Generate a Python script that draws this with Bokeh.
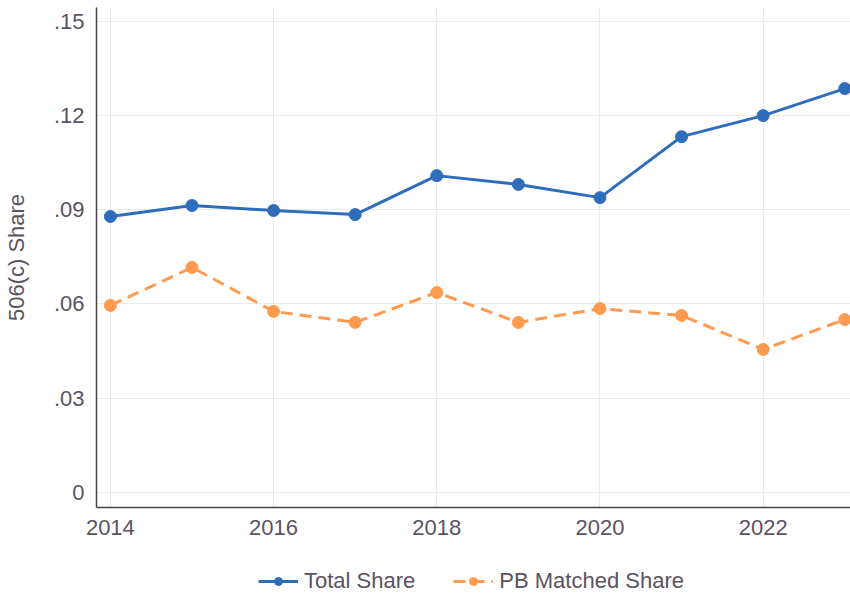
from bokeh.plotting import figure
from bokeh.layouts import column
from bokeh.models import FixedTicker, Legend, LegendItem, Range1d
from bokeh.embed import file_html
from bokeh.resources import INLINE

years = [2014, 2015, 2016, 2017, 2018, 2019, 2020, 2021, 2022, 2023]
total_share = [0.0878, 0.0913, 0.0897, 0.0884, 0.1008, 0.0980, 0.0938, 0.1132, 0.1199, 0.1285]
pb_matched_share = [0.0595, 0.0716, 0.0576, 0.0541, 0.0636, 0.0541, 0.0585, 0.0563, 0.0455, 0.0550]
y_ticks = [0, 0.03, 0.06, 0.09, 0.12, 0.15]
y_tick_labels = ["0", ".03", ".06", ".09", ".12", ".15"]
x_ticks = [2014, 2016, 2018, 2020, 2022]
series_names = ["Total Share", "PB Matched Share"]

BLUE = "#2e6dbc"
ORANGE = "#ff9a4f"
TEXT = "#5a5361"
FONT = "Liberation Sans"
FS = "22px"


def draw_series(fig):
    r1 = fig.line(years, total_share, line_color=BLUE, line_width=3)
    c1 = fig.scatter(years, total_share, size=12, fill_color=BLUE, line_color=BLUE)
    r2 = fig.line(years, pb_matched_share, line_color=ORANGE, line_width=3, line_dash="12 7")
    c2 = fig.scatter(years, pb_matched_share, size=12, fill_color=ORANGE, line_color=ORANGE)
    return [r1, c1], [r2, c2]


p = figure(frame_width=754, frame_height=500, output_backend="svg", toolbar_location=None,
           x_range=Range1d(2013.83, 2023.07), y_range=Range1d(-0.0048, 0.1543),
           min_border_left=0, min_border_right=0, min_border_top=7, min_border_bottom=40)
p.outline_line_color = None
draw_series(p)

p.yaxis.ticker = FixedTicker(ticks=y_ticks)
p.yaxis.major_label_overrides = {t: l for t, l in zip(y_ticks, y_tick_labels)}
p.xaxis.ticker = FixedTicker(ticks=x_ticks)

for ax in (p.xaxis, p.yaxis):
    ax.major_tick_line_color = None
    ax.minor_tick_line_color = None
    ax.axis_line_color = "#444444"
    ax.axis_line_width = 1.5
    ax.major_label_text_font = FONT
    ax.major_label_text_font_size = FS
    ax.major_label_text_color = TEXT

p.yaxis.axis_label = "506(c) Share"
p.yaxis.axis_label_text_font = FONT
p.yaxis.axis_label_text_font_size = FS
p.yaxis.axis_label_text_font_style = "normal"
p.yaxis.axis_label_text_color = TEXT
p.yaxis.major_label_standoff = 6
p.yaxis.axis_label_standoff = 22
p.xaxis.major_label_standoff = 6

p.xgrid.grid_line_color = "#ebebeb"
p.ygrid.grid_line_color = "#ebebeb"

# legend strip below the chart (its series lie outside its tiny view)
lg = figure(width=850, height=51, output_backend="svg", toolbar_location=None,
            x_range=Range1d(0, 1), y_range=Range1d(0, 1),
            x_axis_location=None, y_axis_location=None,
            min_border_left=0, min_border_right=0, min_border_top=0, min_border_bottom=0)
lg.outline_line_color = None
lg.xgrid.visible = False
lg.ygrid.visible = False
s1, s2 = draw_series(lg)

legend = Legend(items=[LegendItem(label=series_names[0], renderers=s1),
                       LegendItem(label=series_names[1], renderers=s2)],
                orientation="horizontal", location=(162, 4),
                label_text_font=FONT, label_text_font_size=FS, label_text_color=TEXT,
                glyph_width=40, spacing=38, label_standoff=6, border_line_color=None,
                background_fill_alpha=0, margin=0, padding=0)
lg.add_layout(legend, "center")

layout = column(p, lg, spacing=0)
open("out.html", "w").write(file_html(layout, INLINE))
